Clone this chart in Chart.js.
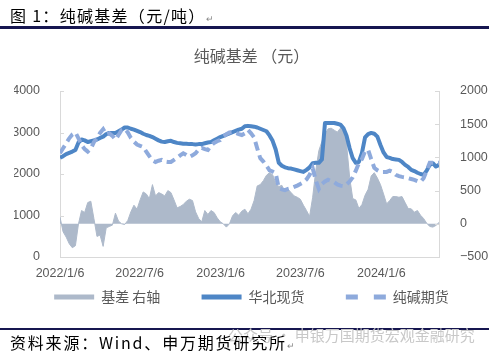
<!DOCTYPE html>
<html><head><meta charset="utf-8">
<script src="https://cdn.jsdelivr.net/npm/chart.js@4.4.1/dist/chart.umd.min.js"></script>
<style>
html,body{margin:0;padding:0;background:#fff;width:489px;height:357px;overflow:hidden;font-family:'Noto Sans CJK SC',sans-serif;}
#wrap{position:relative;width:489px;height:357px;}
canvas{position:absolute;left:0;top:0;}
.hd{position:absolute;left:10px;top:5px;font-size:16px;line-height:20px;color:#000;letter-spacing:1.3px;white-space:nowrap;}
.ft{position:absolute;left:10px;top:332px;font-size:16px;line-height:20px;color:#000;letter-spacing:1.8px;white-space:nowrap;z-index:2;}
.wm{position:absolute;left:228px;top:325px;font-size:15px;line-height:20px;color:#c8c8c8;white-space:nowrap;z-index:1;}
.ret{font-size:9px;color:#888;letter-spacing:0;}
.rule{position:absolute;left:0;width:489px;background:#161650;}
</style></head>
<body><div id="wrap">
<canvas id="c" width="489" height="357"></canvas>
<div class="hd">图 1：纯碱基差（元/吨）<span class="ret">↵</span></div>
<div class="rule" style="top:26px;height:3px"></div>
<div class="rule" style="top:328px;height:2px"></div>
<div class="wm">公众号 · 申银万国期货宏观金融研究</div>
<div class="ft">资料来源：Wind、申万期货研究所<span class="ret">↵</span></div>
</div>
<script>
const startDate = '2022/1/6';
const weekCount = 124;
const tickLabels = ['2022/1/6','2022/7/6','2023/1/6','2023/7/6','2024/1/6'];
const seriesNames = ['基差 右轴','华北现货','纯碱期货'];

const basis = [100,-120,-200,-300,-360,-330,0,200,170,320,
 340,80,-190,-170,-340,-60,-40,-20,160,40,
 0,-10,50,180,280,220,360,480,450,380,
 590,420,470,450,420,500,470,360,240,260,
 290,340,370,350,180,80,30,200,140,200,
 170,90,30,0,-50,0,120,170,130,190,
 220,150,220,350,570,590,650,730,770,740,
 620,560,580,480,520,470,420,400,370,280,
 200,110,400,800,1100,1240,1350,1430,1440,1410,
 1380,1440,1470,1200,700,380,360,230,290,430,
 520,720,770,690,590,450,300,350,410,410,
 400,410,320,230,225,175,200,130,80,10,
 -40,-50,-25,20];

const spot = [2390,2430,2480,2510,2540,2580,2760,2830,2810,2770,
 2790,2810,2830,2870,2900,2960,2990,2990,2990,3030,
 3070,3120,3120,3090,3070,3040,3010,2970,2940,2920,
 2890,2850,2810,2780,2770,2790,2800,2770,2750,2740,
 2730,2730,2720,2720,2710,2720,2720,2740,2760,2770,
 2810,2850,2890,2920,2950,2980,3010,3040,3070,3090,
 3150,3160,3150,3140,3120,3090,3060,3030,2930,2800,
 2590,2270,2200,2160,2140,2130,2110,2090,2070,2050,
 2100,2160,2260,2270,2270,2350,3230,3230,3230,3230,
 3210,3190,3100,2920,2620,2380,2270,2290,2510,2880,
 2960,2990,2970,2900,2700,2520,2410,2390,2360,2350,
 2340,2290,2220,2170,2100,2070,2030,2000,1980,2080,
 2220,2260,2180,2220];

const futures = [2500,2620,2740,2860,2950,3000,2860,2700,2600,2540,
 2610,2770,2860,2990,3080,2950,2980,2920,2830,2940,
 3060,3090,3000,2870,2780,2710,2680,2650,2540,2430,
 2330,2290,2320,2340,2300,2290,2290,2340,2390,2450,
 2500,2460,2410,2450,2500,2590,2630,2600,2580,2680,
 2750,2790,2820,2900,2960,3000,3010,2990,2960,2940,
 2980,3060,2980,2880,2620,2380,2300,2200,2090,2060,
 2020,1660,1630,1610,1640,1660,1690,1720,1760,1800,
 1870,1980,2140,1850,1640,1760,1820,1860,1830,1800,
 1750,1720,1710,1750,1820,1920,2080,2260,2360,2550,
 2580,2360,2150,2090,2050,2050,2050,2080,2050,1980,
 1950,1930,1920,1900,1880,1860,1830,1810,1900,2080,
 2270,2270,2270,2270];

function toUTC(s){const [y,m,d]=s.split('/').map(Number);return Date.UTC(y,m-1,d);}
const DAY=86400000;
const t0=toUTC(startDate);
const dates=[];
for(let i=0;i<weekCount;i++){const d=new Date(t0+i*7*DAY);dates.push(d.getUTCFullYear()+'/'+(d.getUTCMonth()+1)+'/'+d.getUTCDate());}
const dayOf=s=>Math.round((toUTC(s)-t0)/DAY);
const xs=dates.map(dayOf);
const tickDays=tickLabels.map(dayOf);
const pts=arr=>arr.map((v,i)=>({x:xs[i],y:v}));

const FONT="'Liberation Sans','Noto Sans CJK SC',sans-serif";
const CJK="'Noto Sans CJK SC',sans-serif";
const TXT='#595959', AX='#d9d9d9';
const C_BASIS='#adb9ca', C_SPOT='#4e86c6', C_FUT='#8eaadc';
const numFmt=v=>v<0?'\u2212'+Math.abs(v):String(v);

const innerTicks={id:'innerTicks',afterDatasetsDraw(chart){
  const ctx=chart.ctx,a=chart.chartArea;
  ctx.save();ctx.strokeStyle=AX;ctx.lineWidth=1;
  const y=chart.scales.y,y1=chart.scales.y1;
  y.ticks.forEach(t=>{const p=Math.round(y.getPixelForValue(t.value))+0.5;ctx.beginPath();ctx.moveTo(a.left,p);ctx.lineTo(a.left+4,p);ctx.stroke();});
  y1.ticks.forEach(t=>{const p=Math.round(y1.getPixelForValue(t.value))+0.5;ctx.beginPath();ctx.moveTo(a.right-4,p);ctx.lineTo(a.right,p);ctx.stroke();});
  ctx.restore();
}};

const legendStyles=[
  {color:C_BASIS,dash:[]},
  {color:C_SPOT,dash:[]},
  {color:C_FUT,dash:[12,16]}
];
const spacer='\u3000\u3000  ';

new Chart(document.getElementById('c'),{
  type:'line',
  data:{datasets:[
    {label:seriesNames[0],data:pts(basis),yAxisID:'y1',fill:'origin',backgroundColor:C_BASIS,borderColor:C_BASIS,borderWidth:1,pointRadius:0,tension:0,order:3},
    {label:seriesNames[1],data:pts(spot),yAxisID:'y',fill:false,borderColor:C_SPOT,borderWidth:4,pointRadius:0,tension:0,order:2,borderJoinStyle:'round'},
    {label:seriesNames[2],data:pts(futures),yAxisID:'y',fill:false,borderColor:C_FUT,borderWidth:4,borderDash:[9,5],pointRadius:0,tension:0,order:1}
  ]},
  options:{
    responsive:false,animation:false,devicePixelRatio:1,
    layout:{padding:{top:46,left:14,right:0,bottom:43}},
    plugins:{
      title:{display:true,text:'纯碱基差 （元）',color:TXT,font:{family:CJK,size:16,weight:'normal'},padding:{top:0,bottom:25.8}},
      legend:{position:'bottom',labels:{
        boxWidth:40,pointStyleWidth:40,usePointStyle:true,padding:7,color:TXT,font:{family:CJK,size:14},
        generateLabels(chart){
          return chart.data.datasets.map((ds,i)=>({
            text:ds.label+(i<2?spacer:''),fillStyle:'rgba(0,0,0,0)',strokeStyle:legendStyles[i].color,
            lineWidth:5,lineDash:legendStyles[i].dash,lineCap:'butt',pointStyle:'line',
            fontColor:TXT,hidden:false,datasetIndex:i
          }));
        }
      }},
      tooltip:{enabled:false}
    },
    scales:{
      x:{type:'linear',min:0,max:xs[xs.length-1],
        afterBuildTicks(s){s.ticks=tickDays.map(v=>({value:v}));},
        afterFit(s){s.height=26;},
        ticks:{autoSkip:false,maxRotation:0,padding:1,color:TXT,font:{family:FONT,size:12.5},
          callback:(v)=>{const k=tickDays.indexOf(v);return k>=0?tickLabels[k]:'';}},
        grid:{display:false},border:{display:true,color:AX,width:1}},
      y:{position:'left',min:0,max:4000,
        afterFit(s){s.width=46;},
        ticks:{stepSize:1000,padding:12,color:TXT,font:{family:FONT,size:12.5},callback:numFmt},
        grid:{display:false},border:{display:true,color:AX,width:1}},
      y1:{position:'right',min:-500,max:2000,
        afterFit(s){s.width=50;},
        ticks:{stepSize:500,padding:13,color:TXT,font:{family:FONT,size:12.5},callback:numFmt},
        grid:{display:false},border:{display:true,color:AX,width:1}}
    }
  },
  plugins:[innerTicks]
});
</script>
</body></html>
